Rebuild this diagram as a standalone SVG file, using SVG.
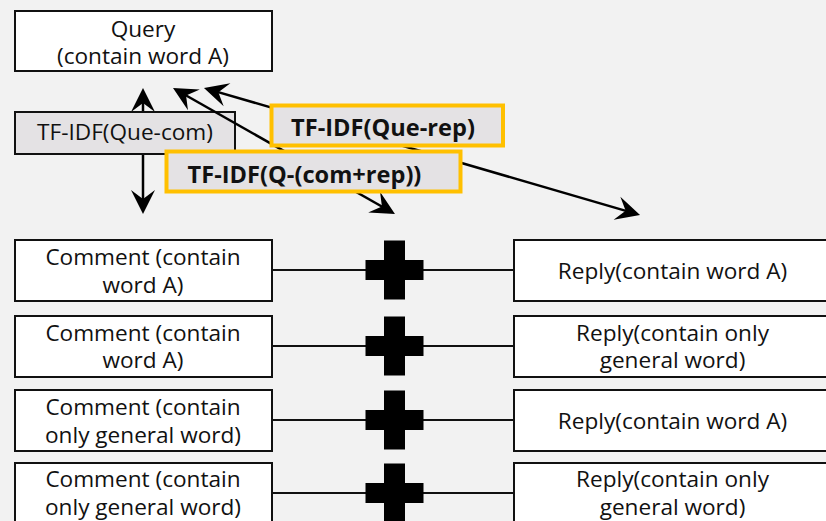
<svg xmlns="http://www.w3.org/2000/svg" width="826" height="521" viewBox="0 0 826 521">
  <style>
    .box { fill: #ffffff; stroke: #111111; stroke-width: 2; }
    .calc { fill: #e4e2e4; stroke: #111111; stroke-width: 2; }
    .hl { fill: #e4e2e4; stroke: #ffc000; stroke-width: 4; }
    .t { font-family: "Open Sans", "Noto Sans", "Liberation Sans", sans-serif; font-size: 22.6px; fill: #111111; text-anchor: middle; }
    .tb { font-family: "Open Sans", "Noto Sans", "Liberation Sans", sans-serif; font-size: 23.6px; font-weight: bold; fill: #111111; text-anchor: middle; }
    .arrow { stroke: #000000; stroke-width: 2.5; fill: none; marker-start: url(#stealth); marker-end: url(#stealth); }
    .link { stroke: #111111; stroke-width: 2; }
  </style>
  <defs>
    <marker id="stealth" markerUnits="userSpaceOnUse" viewBox="-26 -13 30 26" markerWidth="30" markerHeight="26" refX="-4" refY="0" orient="auto-start-reverse" overflow="visible">
      <path d="M0,0 L-24,-12 L-15,0 L-24,12 Z" fill="#000000"/>
    </marker>
    <path id="plus" d="M-10.5,-29.5 H10.5 V-10 H29 V10 H10.5 V29.5 H-10.5 V10 H-29 V-10 H-10.5 Z" fill="#000000"/>
  </defs>

  <rect width="826" height="521" fill="#f2f2f2"/>

  <!-- vertical link between query and comments, passes behind the Que-com label -->
  <g id="connectors-back">
    <line class="arrow" x1="143" y1="92" x2="143" y2="210"/>
  </g>

  <g id="query">
    <rect class="box" x="15" y="11" width="257" height="60"/>
    <text class="t" x="143" y="37">Query</text>
    <text class="t" x="143" y="64">(contain word A)</text>
  </g>

  <g id="tfidf-que-com">
    <rect class="calc" x="15" y="112" width="220" height="42"/>
    <text class="t" x="125" y="140">TF-IDF(Que-com)</text>
  </g>

  <!-- diagonal links from the query to the comment+reply pair and to the replies -->
  <g id="connectors">
    <line class="arrow" x1="207.8" y1="89.1" x2="636.2" y2="213.9"/>
    <line class="arrow" x1="176.5" y1="90" x2="391.5" y2="212"/>
  </g>

  <g id="tfidf-que-rep">
    <rect class="hl" x="271.5" y="105.5" width="231.5" height="40"/>
    <text class="tb" x="383" y="136">TF-IDF(Que-rep)</text>
  </g>

  <g id="tfidf-q-com-rep">
    <rect class="hl" x="166.5" y="151.5" width="294" height="40"/>
    <text class="tb" x="304.5" y="183">TF-IDF(Q-(com+rep))</text>
  </g>

  <!-- comment / reply pairs joined by a plus sign -->
  <g id="pair-links">
    <line class="link" x1="272" y1="270" x2="513" y2="270"/>
    <line class="link" x1="272" y1="346" x2="513" y2="346"/>
    <line class="link" x1="272" y1="420" x2="513" y2="420"/>
    <line class="link" x1="272" y1="493" x2="513" y2="493"/>
    <use href="#plus" x="394.5" y="270"/>
    <use href="#plus" x="394.5" y="346"/>
    <use href="#plus" x="394.5" y="420"/>
    <use href="#plus" x="394.5" y="493"/>
  </g>

  <g id="comment-1">
    <rect class="box" x="15" y="240" width="257" height="61"/>
    <text class="t" x="143" y="265">Comment (contain</text>
    <text class="t" x="143" y="293">word A)</text>
  </g>
  <g id="comment-2">
    <rect class="box" x="15" y="316" width="257" height="61"/>
    <text class="t" x="143" y="341">Comment (contain</text>
    <text class="t" x="143" y="368">word A)</text>
  </g>
  <g id="comment-3">
    <rect class="box" x="15" y="390" width="257" height="61"/>
    <text class="t" x="143" y="415">Comment (contain</text>
    <text class="t" x="143" y="443">only general word)</text>
  </g>
  <g id="comment-4">
    <rect class="box" x="15" y="463" width="257" height="61"/>
    <text class="t" x="143" y="487">Comment (contain</text>
    <text class="t" x="143" y="515">only general word)</text>
  </g>

  <g id="reply-1">
    <rect class="box" x="514" y="240" width="318" height="61"/>
    <text class="t" x="672.5" y="279">Reply(contain word A)</text>
  </g>
  <g id="reply-2">
    <rect class="box" x="514" y="316" width="318" height="61"/>
    <text class="t" x="672.5" y="341">Reply(contain only</text>
    <text class="t" x="672.5" y="368">general word)</text>
  </g>
  <g id="reply-3">
    <rect class="box" x="514" y="390" width="318" height="61"/>
    <text class="t" x="672.5" y="429">Reply(contain word A)</text>
  </g>
  <g id="reply-4">
    <rect class="box" x="514" y="463" width="318" height="61"/>
    <text class="t" x="672.5" y="487">Reply(contain only</text>
    <text class="t" x="672.5" y="515">general word)</text>
  </g>
</svg>
